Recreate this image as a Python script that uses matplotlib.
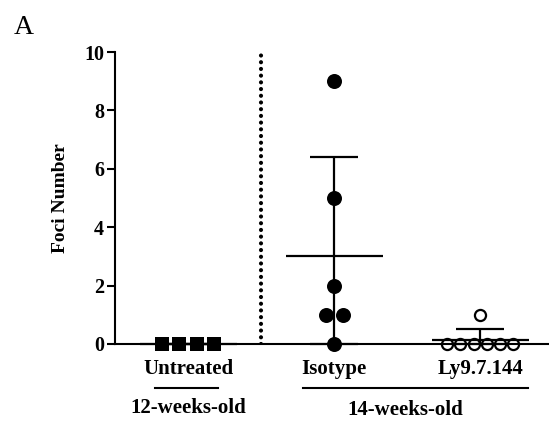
#!/usr/bin/env python3
"""Foci number per group, scatter with mean +/- SD (panel A)."""

import matplotlib
matplotlib.use("Agg")
import matplotlib.pyplot as plt
import numpy as np

GROUPS = ["Untreated", "Isotype", "Ly9.7.144"]
UNTREATED = [0, 0, 0, 0]
ISOTYPE = [0, 1, 1, 2, 5, 9]
LY9 = [0, 0, 0, 0, 0, 0, 1]
AGE_LABELS = ["12-weeks-old", "14-weeks-old"]
Y_TICKS = [0, 2, 4, 6, 8, 10]

plt.rcParams.update({
    "font.family": ["Liberation Serif", "DejaVu Serif"],
    "font.weight": "bold",
    "axes.linewidth": 1.5,
})


def spread(values, step):
    # side-by-side offsets for tied values, centred on the group
    values = np.asarray(values, dtype=float)
    offs = np.zeros(len(values))
    for v in np.unique(values):
        idx = np.where(values == v)[0]
        n = len(idx)
        offs[idx] = (np.arange(n) - (n - 1) / 2) * step
    return offs


def main():
    fig = plt.figure(figsize=(5.49, 4.23), dpi=100)
    ax = fig.add_axes([0.2095, 0.1868, 0.798, 0.690])

    data = [UNTREATED, ISOTYPE, LY9]
    styles = [
        dict(marker="s", ms=10.6, mfc="black", mec="black", mew=0, step=0.12),
        dict(marker="o", ms=10.8, mfc="black", mec="black", mew=0, step=0.116),
        dict(marker="o", ms=8.0, mfc="none", mec="black", mew=1.6, step=0.09),
    ]

    for i, (vals, st) in enumerate(zip(data, styles)):
        vals = np.asarray(vals, dtype=float)
        mean = vals.mean()
        sd = vals.std(ddof=1)
        lower = min(sd, mean)
        ax.hlines(mean, i - 0.332, i + 0.332, color="black", lw=1.6,
                  clip_on=False, zorder=3)
        ax.errorbar(i, mean, yerr=[[lower], [sd]], fmt="none", ecolor="black",
                    elinewidth=1.6, capsize=17.3, capthick=1.6,
                    clip_on=False, zorder=3)
        xs = i + spread(vals, st["step"])
        ax.plot(xs, vals, linestyle="none", marker=st["marker"], ms=st["ms"],
                mfc=st["mfc"], mec=st["mec"], mew=st["mew"],
                clip_on=False, zorder=4)

    # dotted separator between the two age groups
    ax.plot([0.5, 0.5], [0, 10], color="black", lw=3.0,
            linestyle=(0, (0.01, 1.6)), dash_capstyle="round", zorder=2)

    ax.set_xlim(-0.5, 2.5)
    ax.set_ylim(0, 10)
    ax.set_yticks(Y_TICKS)
    ax.set_yticklabels([str(t) for t in Y_TICKS], fontsize=14.5)
    ax.tick_params(axis="y", length=5.8, width=1.5, pad=2)
    ax.set_xticks(range(len(GROUPS)))
    ax.set_xticklabels(GROUPS, fontsize=15)
    ax.tick_params(axis="x", length=0, pad=11)
    for s in ["top", "right"]:
        ax.spines[s].set_visible(False)

    ax.set_ylabel("Foci Number", fontsize=14, fontweight="bold", labelpad=11)

    # age group brackets
    ax.plot([-0.226, 0.205], [-1.51, -1.51], color="black", lw=1.5, clip_on=False)
    ax.plot([0.788, 2.329], [-1.51, -1.51], color="black", lw=1.5, clip_on=False)
    ax.text(0.0, -2.2, AGE_LABELS[0], ha="center", va="center", fontsize=15)
    ax.text(1.49, -2.25, AGE_LABELS[1], ha="center", va="center", fontsize=15)

    fig.text(0.043, 0.935, "A", fontsize=20, fontweight="normal",
             ha="center", va="center")

    fig.savefig("out.png", dpi=100)
    plt.close(fig)


if __name__ == "__main__":
    main()
